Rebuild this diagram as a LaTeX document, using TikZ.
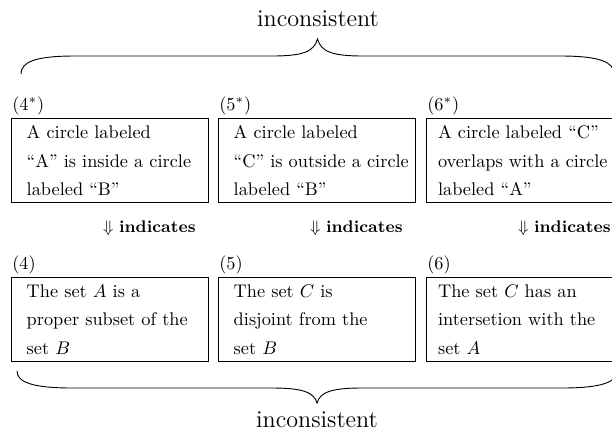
\documentclass[tikz,border=0pt]{standalone}
\begin{document}
\begin{tikzpicture}[x=0.5464pt,y=-0.5464pt,
  box/.style={draw, line width=0.6pt, anchor=north west, minimum width=107.6pt,
    minimum height=45.9pt, text width=91pt, inner xsep=8.3pt, inner ysep=3pt,
    align=left, font=\fontsize{10}{15.6}\selectfont},
  tag/.style={anchor=base west, inner sep=0pt, font=\fontsize{10}{12}\selectfont},
  ind/.style={anchor=mid east, inner sep=0pt, font=\fontsize{9.2}{11}\selectfont},
  word/.style={inner sep=0pt, font=\fontsize{13.2}{16}\selectfont},
  bracepath/.style={line width=0.5pt}]
\useasboundingbox (0,0) rectangle (612,433);

% top word and brace
\node[word] (top) at (318,19) {inconsistent};
\coordinate (tl) at (21,74);
\coordinate (tt) at (317.5,39);
\coordinate (tr) at (614,74);
\draw[bracepath] (tl) .. controls (21,62) and (35,56) .. (75,56) -- (272,56)
  .. controls (302,56) and (314,52) .. (tt)
  .. controls (321,52) and (333,56) .. (363,56) -- (560,56)
  .. controls (600,56) and (614,62) .. (tr);

% upper boxes
\node[tag] (l1) at (12,110) {(4$^*$)};
\node[tag] (l2) at (219,110) {(5$^*$)};
\node[tag] (l3) at (427,110) {(6$^*$)};
\node[box] (u1) at (11,118) {\mbox{A circle labeled}\\\mbox{``A'' is inside a circle}\\\mbox{labeled ``B''}};
\node[box] (u2) at (218,118) {\mbox{A circle labeled}\\\mbox{``C'' is outside a circle}\\\mbox{labeled ``B''}};
\node[box, inner xsep=6.3pt, text width=95pt] (u3) at (426,118) {\mbox{A circle labeled ``C''}\\\mbox{overlaps with a circle}\\\mbox{labeled ``A''}};

% indicates
\node[ind] (i1) at (196,229) {$\Downarrow$ \textbf{indicates}};
\node[ind] (i2) at (403,229) {$\Downarrow$ \textbf{indicates}};
\node[ind] (i3) at (611,229) {$\Downarrow$ \textbf{indicates}};

% lower boxes
\node[tag] (m1) at (12,269) {(4)};
\node[tag] (m2) at (219,269) {(5)};
\node[tag] (m3) at (427,269) {(6)};
\node[box] (d1) at (11,277) {\mbox{The set $A$ is a}\\\mbox{proper subset of the}\\\mbox{set $B$}};
\node[box] (d2) at (218,277) {\mbox{The set $C$ is}\\\mbox{disjoint from the}\\\mbox{set $B$}};
\node[box, inner xsep=6.3pt, text width=95pt] (d3) at (426,277) {\mbox{The set $C$ has an}\\\mbox{intersetion with the}\\\mbox{set $A$}};

% bottom brace and word
\coordinate (bl) at (17,371);
\coordinate (bt) at (317,403);
\coordinate (br) at (617,371);
\draw[bracepath] (bl) .. controls (17,382) and (32,388) .. (72,388) -- (272,388)
  .. controls (302,388) and (314,392) .. (bt)
  .. controls (320,392) and (332,388) .. (362,388) -- (562,388)
  .. controls (602,388) and (617,382) .. (br);
\node[word] (bot) at (317,420) {inconsistent};
\end{tikzpicture}
\end{document}
